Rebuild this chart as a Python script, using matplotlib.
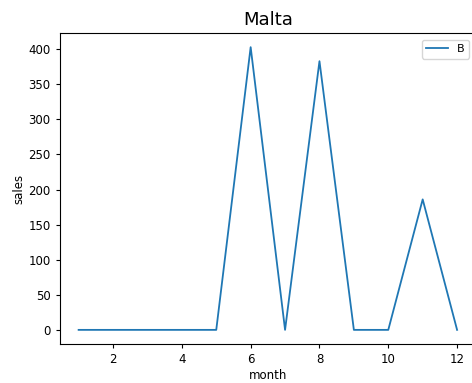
import matplotlib
matplotlib.use("Agg")
import matplotlib.pyplot as plt

# monthly sales for Malta, product B
months = [1, 2, 3, 4, 5, 6, 7, 8, 9, 10, 11, 12]
sales_b = [0, 0, 0, 0, 0, 403, 0, 383, 0, 0, 186, 0]

fig = plt.figure(figsize=(4.72, 3.83), dpi=100)
ax = fig.add_axes([0.1265, 0.1018, 0.882, 0.812])
ax.plot(months, sales_b, color="#1f77b4", linewidth=1.3, label="B")

ax.set_title("Malta", fontsize=13)
ax.set_xlabel("month", fontsize=8.5, labelpad=2)
ax.set_ylabel("sales", fontsize=8.5, labelpad=2)
ax.tick_params(labelsize=8.5, length=3)
ax.legend(loc="upper right", fontsize=8, borderaxespad=0.6)

fig.savefig("out.png", dpi=100)
